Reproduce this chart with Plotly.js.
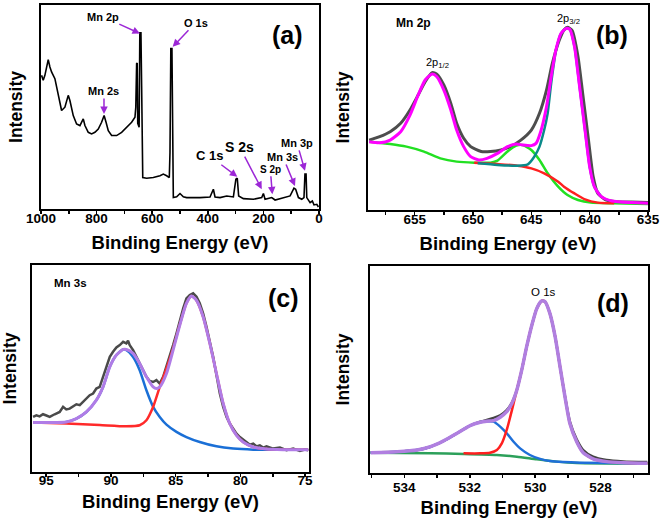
<!DOCTYPE html>
<html>
<head>
<meta charset="utf-8">
<script src="https://cdn.plot.ly/plotly-3.0.1.min.js"></script>
<style>html,body{margin:0;padding:0;background:#fff;}#chart{width:661px;height:521px;}</style>
</head>
<body>
<div id="chart"></div>
<script>
// ---------- (a) survey ----------
const surveyEV = [998, 992, 986, 980, 974, 968, 962, 950, 938, 926, 914, 902, 896, 884, 872, 860, 848, 842, 830, 818, 806, 794, 782, 773, 766, 758, 746, 728, 710, 692, 674, 662, 659, 656, 654, 652, 647, 644.5, 640.5, 638, 636, 634, 620, 596, 572, 560, 548, 538.5, 536, 533, 529, 526.5, 524, 512, 500, 488, 476, 428, 392, 380, 374, 356, 332, 308, 299, 294, 289, 272, 236, 206, 200, 194, 170, 158, 128, 104, 90, 84, 74, 62, 54, 50.5, 46.5, 44, 32, 24, 18, 8, 2];
const surveyInt = [0.655, 0.631, 0.655, 0.696, 0.732, 0.696, 0.672, 0.639, 0.565, 0.483, 0.499, 0.557, 0.532, 0.458, 0.417, 0.409, 0.442, 0.409, 0.376, 0.368, 0.376, 0.392, 0.425, 0.458, 0.425, 0.384, 0.360, 0.360, 0.376, 0.401, 0.425, 0.450, 0.50, 0.713, 0.716, 0.42, 0.401, 0.864, 0.864, 0.60, 0.16, 0.154, 0.151, 0.154, 0.163, 0.171, 0.163, 0.154, 0.278, 0.787, 0.787, 0.105, 0.056, 0.06, 0.076, 0.06, 0.056, 0.056, 0.059, 0.097, 0.059, 0.056, 0.064, 0.059, 0.146, 0.151, 0.064, 0.051, 0.048, 0.056, 0.076, 0.048, 0.056, 0.044, 0.056, 0.064, 0.102, 0.097, 0.056, 0.048, 0.056, 0.171, 0.171, 0.056, 0.031, 0.039, 0.020, 0.023, 0.010];
const surveyPeakLabels = ["Mn 2p", "O 1s", "Mn 2s", "C 1s", "S 2s", "S 2p", "Mn 3s", "Mn 3p"];
const surveyPeakEV = [644, 526.4, 773.4, 293.8, 206, 167.9, 86.4, 50.4];
const surveyPeakInt = [0.86, 0.795, 0.466, 0.158, 0.097, 0.072, 0.113, 0.187];

// ---------- (b) Mn 2p ----------
const mn2pRawEV = [658.9, 658.0, 657.1, 656.2, 655.4, 654.7, 654.1, 653.5, 653.1, 652.5, 651.9, 651.4, 650.8, 650.2, 649.3, 648.5, 647.6, 646.8, 645.9, 645.0, 644.3, 643.7, 643.2, 642.6, 642.2, 641.9, 641.5, 641.0, 640.6, 640.1, 639.7, 639.3, 638.7, 637.9, 636.4, 634.9];
const mn2pRawInt = [0.341, 0.358, 0.382, 0.423, 0.488, 0.561, 0.626, 0.670, 0.663, 0.610, 0.520, 0.423, 0.350, 0.309, 0.285, 0.285, 0.293, 0.309, 0.341, 0.390, 0.472, 0.585, 0.715, 0.829, 0.878, 0.891, 0.875, 0.748, 0.569, 0.341, 0.163, 0.081, 0.052, 0.042, 0.039, 0.036];
const mn2pFitEV = [658.9, 658.0, 657.1, 656.2, 655.4, 654.7, 654.1, 653.5, 653.1, 652.5, 651.9, 651.4, 650.8, 650.2, 649.5, 648.8, 647.9, 647.05, 646.3, 645.75, 645.0, 644.6, 644.2, 643.7, 643.3, 642.9, 642.45, 642.0, 641.7, 641.3, 640.9, 640.4, 640.0, 639.6, 639.0, 638.1, 636.4, 634.9];
const mn2pFitInt = [0.333, 0.328, 0.341, 0.382, 0.463, 0.561, 0.634, 0.663, 0.650, 0.585, 0.488, 0.390, 0.309, 0.260, 0.244, 0.252, 0.276, 0.309, 0.322, 0.317, 0.314, 0.325, 0.382, 0.504, 0.650, 0.780, 0.862, 0.886, 0.881, 0.797, 0.618, 0.390, 0.211, 0.114, 0.065, 0.044, 0.036, 0.033];
const mn2pGreenEV = [658.9, 657.1, 655.7, 654.2, 652.8, 651.4, 649.9, 648.5, 647.9, 647.05, 646.3, 645.75, 645.0, 644.3, 643.6, 642.7, 641.9, 641.0, 639.9, 637.9, 634.9];
const mn2pGreenInt = [0.333, 0.322, 0.309, 0.285, 0.252, 0.236, 0.231, 0.231, 0.241, 0.285, 0.314, 0.317, 0.293, 0.244, 0.179, 0.114, 0.073, 0.049, 0.036, 0.033, 0.029];
const mn2pRedEV = [649.9, 647.9, 646.2, 645.0, 643.9, 642.7, 642.2, 641.3, 640.4, 639.3, 637.9];
const mn2pRedInt = [0.231, 0.224, 0.216, 0.203, 0.179, 0.138, 0.114, 0.081, 0.052, 0.036, 0.033];
const mn2pTealEV = [649.6, 647.9, 646.2, 645.3, 644.75, 644.3, 643.9, 643.6, 643.3, 642.88, 642.45, 642.0, 641.7, 641.3, 640.9, 640.4, 640.0, 639.6, 639.0];
const mn2pTealInt = [0.228, 0.220, 0.216, 0.223, 0.260, 0.309, 0.390, 0.472, 0.618, 0.780, 0.862, 0.886, 0.881, 0.797, 0.618, 0.390, 0.211, 0.114, 0.065];

// ---------- (c) Mn 3s ----------
const mn3sRawEV = [96.02, 95.76, 95.51, 95.25, 94.99, 94.73, 94.35, 93.96, 93.70, 93.45, 93.19, 92.93, 92.67, 92.41, 92.16, 91.90, 91.64, 91.38, 91.13, 90.87, 90.61, 90.35, 90.09, 89.84, 89.58, 89.32, 89.06, 88.81, 88.68, 88.55, 88.29, 88.03, 87.78, 87.52, 87.26, 87.00, 86.74, 86.49, 86.23, 85.97, 85.71, 85.46, 85.20, 84.94, 84.68, 84.42, 84.17, 83.91, 83.65, 83.39, 83.14, 82.88, 82.62, 82.36, 82.10, 81.85, 81.59, 81.33, 81.07, 80.82, 80.56, 80.30, 80.04, 79.79, 79.53, 79.27, 79.01, 78.76, 78.50, 78.24, 77.98, 77.47, 76.95, 76.44, 75.92, 75.40, 75.02, 74.76];
const mn3sRawInt = [0.266, 0.274, 0.269, 0.279, 0.273, 0.266, 0.279, 0.290, 0.315, 0.302, 0.306, 0.315, 0.327, 0.323, 0.339, 0.355, 0.371, 0.379, 0.403, 0.411, 0.460, 0.508, 0.556, 0.581, 0.602, 0.613, 0.629, 0.621, 0.634, 0.613, 0.589, 0.556, 0.524, 0.492, 0.460, 0.440, 0.435, 0.444, 0.427, 0.460, 0.508, 0.556, 0.613, 0.669, 0.734, 0.790, 0.839, 0.855, 0.863, 0.847, 0.815, 0.766, 0.702, 0.629, 0.556, 0.468, 0.379, 0.315, 0.266, 0.234, 0.210, 0.185, 0.169, 0.156, 0.145, 0.132, 0.137, 0.124, 0.129, 0.118, 0.124, 0.113, 0.118, 0.105, 0.113, 0.102, 0.108, 0.105];
const mn3sFitEV = [96.02, 94.73, 93.45, 92.67, 91.90, 91.13, 90.61, 90.09, 89.58, 89.06, 88.81, 88.29, 87.78, 87.26, 86.74, 86.49, 86.23, 85.71, 85.20, 84.68, 84.17, 83.78, 83.39, 82.88, 82.36, 81.85, 81.33, 80.82, 80.30, 79.79, 79.01, 77.98, 76.69, 74.76];
const mn3sFitInt = [0.239, 0.239, 0.242, 0.258, 0.290, 0.347, 0.411, 0.508, 0.565, 0.592, 0.592, 0.573, 0.524, 0.460, 0.411, 0.403, 0.411, 0.476, 0.589, 0.710, 0.815, 0.850, 0.829, 0.750, 0.621, 0.476, 0.331, 0.234, 0.177, 0.145, 0.121, 0.111, 0.108, 0.108];
const mn3sRedEV = [96.02, 93.45, 90.87, 88.81, 87.78, 87.26, 86.74, 86.23, 85.71, 85.20, 84.68, 84.17, 83.78, 83.39, 82.88, 82.36, 81.85, 81.33, 80.82, 80.30, 79.79, 79.01, 77.98, 76.69, 74.76];
const mn3sRedInt = [0.239, 0.234, 0.227, 0.221, 0.226, 0.250, 0.315, 0.411, 0.500, 0.597, 0.713, 0.815, 0.850, 0.829, 0.750, 0.621, 0.476, 0.331, 0.234, 0.177, 0.145, 0.121, 0.111, 0.108, 0.108];
const mn3sBlueEV = [96.02, 93.45, 92.67, 91.90, 91.13, 90.61, 90.09, 89.58, 89.06, 88.81, 88.29, 87.78, 87.26, 86.74, 86.23, 85.71, 84.94, 84.17, 83.14, 81.85, 80.56, 79.01, 74.76];
const mn3sBlueInt = [0.239, 0.242, 0.258, 0.290, 0.347, 0.411, 0.508, 0.565, 0.592, 0.589, 0.556, 0.492, 0.395, 0.315, 0.266, 0.229, 0.194, 0.169, 0.145, 0.124, 0.113, 0.108, 0.108];

// ---------- (d) O 1s ----------
const o1sEV = [535.03, 534.22, 533.61, 533.20, 532.80, 532.39, 531.99, 531.68, 531.48, 531.27, 531.07, 530.87, 530.71, 530.56, 530.41, 530.26, 530.10, 529.95, 529.80, 529.70, 529.55, 529.39, 529.24, 529.09, 528.94, 528.73, 528.53, 528.23, 527.82, 527.31, 526.57];
const o1sRawInt = [0.100, 0.103, 0.111, 0.127, 0.155, 0.192, 0.229, 0.248, 0.256, 0.266, 0.279, 0.304, 0.340, 0.401, 0.498, 0.610, 0.715, 0.795, 0.831, 0.828, 0.771, 0.659, 0.514, 0.372, 0.250, 0.163, 0.111, 0.079, 0.063, 0.056, 0.053];
const o1sFitInt = [0.098, 0.103, 0.111, 0.127, 0.155, 0.192, 0.229, 0.245, 0.250, 0.253, 0.269, 0.296, 0.337, 0.401, 0.498, 0.610, 0.715, 0.795, 0.831, 0.828, 0.771, 0.659, 0.514, 0.369, 0.240, 0.151, 0.098, 0.068, 0.055, 0.050, 0.047];
const o1sRedEV = [532.19, 531.68, 531.38, 531.17, 531.02, 530.87, 530.71, 530.56, 530.41, 530.26, 530.10, 529.95, 529.80, 529.70, 529.55, 529.39, 529.24, 529.09, 528.94, 528.73, 528.53, 528.23, 527.82, 527.31, 526.57];
const o1sRedInt = [0.095, 0.095, 0.098, 0.111, 0.143, 0.208, 0.304, 0.401, 0.498, 0.610, 0.715, 0.795, 0.831, 0.828, 0.771, 0.659, 0.514, 0.369, 0.240, 0.151, 0.098, 0.068, 0.055, 0.050, 0.047];
const o1sBlueEV = [535.03, 534.22, 533.61, 533.20, 532.80, 532.39, 531.99, 531.68, 531.48, 531.27, 531.07, 530.87, 530.66, 530.46, 530.16, 529.85, 529.55, 529.14, 528.63, 526.57];
const o1sBlueInt = [0.098, 0.103, 0.111, 0.127, 0.155, 0.192, 0.229, 0.245, 0.250, 0.248, 0.224, 0.192, 0.151, 0.119, 0.087, 0.068, 0.058, 0.053, 0.050, 0.047];
const o1sGreenEV = [535.03, 533.20, 532.19, 531.17, 530.56, 529.95, 529.34, 528.73, 526.57];
const o1sGreenInt = [0.098, 0.095, 0.092, 0.087, 0.079, 0.066, 0.055, 0.048, 0.045];

// ---------- tick labels / titles ----------
const xTitle = "Binding Energy (eV)";
const yTitle = "Intensity";
const panelLabels = ["(a)", "(b)", "(c)", "(d)"];

const W = 661, H = 521;
const PX = p => p / W, PY = p => 1 - p / H;
const FONT = "Liberation Sans, Arial, sans-serif";

function ln(x, y, xa, ya, color, width, shape) {
  return {x: x, y: y, xaxis: xa, yaxis: ya, type: 'scatter', mode: 'lines',
          line: {color: color, width: width, shape: shape || 'spline', smoothing: 0.6},
          hoverinfo: 'skip'};
}

const traces = [
  ln(surveyEV, surveyInt, 'x', 'y', '#000000', 1.6, 'linear'),

  ln(mn2pRawEV, mn2pRawInt, 'x2', 'y2', '#4d4d4d', 3),
  ln(mn2pGreenEV, mn2pGreenInt, 'x2', 'y2', '#22e022', 2.5),
  ln(mn2pRedEV, mn2pRedInt, 'x2', 'y2', '#ff2020', 2.5),
  ln(mn2pTealEV, mn2pTealInt, 'x2', 'y2', '#0a8a8a', 2.5),
  ln(mn2pFitEV, mn2pFitInt, 'x2', 'y2', '#ff00ff', 3),

  ln(mn3sRawEV, mn3sRawInt, 'x3', 'y3', '#4a4a4a', 2.5, 'linear'),
  ln(mn3sBlueEV, mn3sBlueInt, 'x3', 'y3', '#1a6fd6', 2.5),
  ln(mn3sRedEV, mn3sRedInt, 'x3', 'y3', '#ff2a2a', 2.5),
  ln(mn3sFitEV, mn3sFitInt, 'x3', 'y3', '#b07ce6', 3),

  ln(o1sEV, o1sRawInt, 'x4', 'y4', '#444444', 2.5),
  ln(o1sGreenEV, o1sGreenInt, 'x4', 'y4', '#2ca05a', 2.5),
  ln(o1sBlueEV, o1sBlueInt, 'x4', 'y4', '#1f6fd8', 2.5),
  ln(o1sRedEV, o1sRedInt, 'x4', 'y4', '#ff2020', 2.5),
  ln(o1sEV, o1sFitInt, 'x4', 'y4', '#b07fe0', 3.5)
];

function xax(domain, anchor, range, dtick, minorDtick, standoff, labStandoff) {
  return {
    domain: domain, anchor: anchor, range: range, autorange: false,
    showline: true, mirror: true, linecolor: '#000', linewidth: 2,
    showgrid: false, zeroline: false,
    ticks: 'outside', ticklen: 3, tickwidth: 1.5, tickcolor: '#000',
    tick0: 0, dtick: dtick,
    minor: {ticks: 'outside', ticklen: 3, tickwidth: 1.5, tickcolor: '#000', dtick: minorDtick, showgrid: false},
    ticklabelstandoff: labStandoff,
    tickfont: {family: FONT, size: 13.5, color: '#000', weight: 'bold'},
    title: {text: xTitle, font: {family: FONT, size: 18.5, color: '#000', weight: 'bold'}, standoff: standoff}
  };
}
function yax(domain, anchor, standoff) {
  return {
    domain: domain, anchor: anchor, range: [0, 1], autorange: false,
    showline: true, mirror: true, linecolor: '#000', linewidth: 2,
    showgrid: false, zeroline: false, ticks: '', showticklabels: false,
    title: {text: yTitle, font: {family: FONT, size: 17.5, color: '#000', weight: 'bold'}, standoff: standoff}
  };
}

const annotations = [];
// panel labels
const panelPos = [[287, 35], [612, 35], [283, 298], [613, 303]];
panelLabels.forEach((t, i) => annotations.push({
  text: t, xref: 'paper', yref: 'paper', x: PX(panelPos[i][0]), y: PY(panelPos[i][1]),
  xanchor: 'center', yanchor: 'middle', showarrow: false,
  font: {family: FONT, size: 25, color: '#000', weight: 'bold'}
}));
// survey peak arrows (text offset in px, size)
const arrowOff = [[-37, -17, 11], [23, -24, 11], [0, -23, 11], [-28, -21, 13], [-22, -42, 14], [-2, -25, 10], [-12, -29, 11], [-8, -28, 11]];
surveyPeakLabels.forEach((t, i) => annotations.push({
  text: t, xref: 'x', yref: 'y', x: surveyPeakEV[i], y: surveyPeakInt[i],
  ax: arrowOff[i][0], ay: arrowOff[i][1], showarrow: true,
  arrowcolor: '#9c27d6', arrowwidth: 1.5, arrowhead: 2, arrowsize: 1, standoff: 0,
  font: {family: FONT, size: arrowOff[i][2], color: '#000', weight: 'bold'}
}));
// in-panel labels
const inner = [
  ["Mn 2p", 413, 23, 12, 'bold'],
  ["2p<sub>1/2</sub>", 437, 63, 11, 'normal'],
  ["2p<sub>3/2</sub>", 568, 19, 11, 'normal'],
  ["Mn 3s", 70, 283, 11.5, 'bold'],
  ["O 1s", 543, 292, 11.5, 'normal']
];
inner.forEach(a => annotations.push({
  text: a[0], xref: 'paper', yref: 'paper', x: PX(a[1]), y: PY(a[2]),
  xanchor: 'center', yanchor: 'middle', showarrow: false,
  font: {family: FONT, size: a[3], color: '#000', weight: a[4]}
}));

const layout = {
  width: W, height: H, margin: {l: 0, r: 0, t: 0, b: 0},
  paper_bgcolor: '#fff', plot_bgcolor: '#fff', showlegend: false,
  font: {family: FONT, color: '#000'},
  xaxis: xax([PX(41), PX(319)], 'y', [1000, 0], 200, 100, 11, -7),
  yaxis: yax([PY(209), PY(5)], 'x', 12),
  xaxis2: xax([PX(368), PX(648)], 'y2', [659, 635], 5, 2.5, 11, -7),
  yaxis2: yax([PY(210), PY(5)], 'x2', 12),
  xaxis3: xax([PX(32), PX(309)], 'y3', [96.1, 74.7], 5, 2.5, 8, -8),
  yaxis3: yax([PY(472), PY(265)], 'x3', 12),
  xaxis4: xax([PX(370), PX(648)], 'y4', [535.05, 526.55], 2, 1, 7, -2),
  yaxis4: yax([PY(473), PY(266)], 'x4', 14),
  annotations: annotations
};

Plotly.newPlot('chart', traces, layout, {staticPlot: true, displayModeBar: false});
</script>
</body>
</html>
